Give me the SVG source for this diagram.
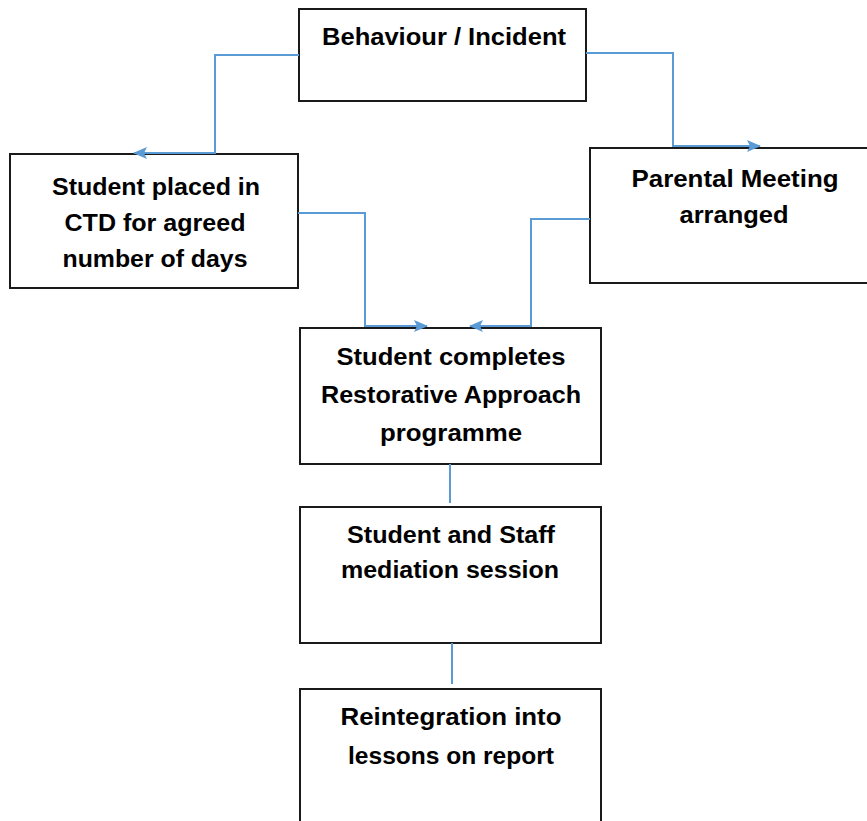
<svg xmlns="http://www.w3.org/2000/svg" width="867" height="821" viewBox="0 0 867 821">
<defs>
<style>
.box{fill:#fff;stroke:#1a1a1a;stroke-width:2}
.lbl{font-family:"Liberation Sans",Arial,sans-serif;font-weight:bold;font-size:23px;fill:#000;text-anchor:middle}
.con{fill:none;stroke:#5b9bd5;stroke-width:2}
</style>
<marker id="arr" markerWidth="14" markerHeight="12" refX="13" refY="6" orient="auto" markerUnits="userSpaceOnUse" viewBox="0 0 14 12">
<path d="M0,0 L14,6 L0,12 L3,6 z" fill="#5b9bd5"/>
</marker>
</defs>
<rect width="867" height="821" fill="#fff"/>
<g id="n-behaviour">
<rect class="box" x="299" y="9" width="287" height="92"/>
<text class="lbl" x="444" y="45" textLength="244" lengthAdjust="spacingAndGlyphs">Behaviour / Incident</text>
</g>
<g id="n-ctd">
<rect class="box" x="10" y="154" width="288" height="134"/>
<text class="lbl" x="156" y="195" textLength="208" lengthAdjust="spacingAndGlyphs">Student placed in</text>
<text class="lbl" x="155" y="231" textLength="181" lengthAdjust="spacingAndGlyphs">CTD for agreed</text>
<text class="lbl" x="155" y="267" textLength="185" lengthAdjust="spacingAndGlyphs">number of days</text>
</g>
<g id="n-parental">
<rect class="box" x="590" y="148" width="290" height="135"/>
<text class="lbl" x="735" y="187" textLength="207" lengthAdjust="spacingAndGlyphs">Parental Meeting</text>
<text class="lbl" x="734" y="223" textLength="109" lengthAdjust="spacingAndGlyphs">arranged</text>
</g>
<g id="n-restorative">
<rect class="box" x="300" y="328" width="301" height="136"/>
<text class="lbl" x="451" y="365" textLength="229" lengthAdjust="spacingAndGlyphs">Student completes</text>
<text class="lbl" x="451" y="403" textLength="260" lengthAdjust="spacingAndGlyphs">Restorative Approach</text>
<text class="lbl" x="451" y="441" textLength="142" lengthAdjust="spacingAndGlyphs">programme</text>
</g>
<g id="n-mediation">
<rect class="box" x="300" y="507" width="301" height="136"/>
<text class="lbl" x="451" y="543" textLength="208" lengthAdjust="spacingAndGlyphs">Student and Staff</text>
<text class="lbl" x="450" y="578" textLength="218" lengthAdjust="spacingAndGlyphs">mediation session</text>
</g>
<g id="n-reintegration">
<rect class="box" x="300" y="689" width="301" height="150"/>
<text class="lbl" x="451" y="725" textLength="221" lengthAdjust="spacingAndGlyphs">Reintegration into</text>
<text class="lbl" x="451" y="764" textLength="206" lengthAdjust="spacingAndGlyphs">lessons on report</text>
</g>
<g id="connectors">
<path class="con" d="M299,55 H215 V153 H134" marker-end="url(#arr)"/>
<path class="con" d="M586,53 H673 V146 H760" marker-end="url(#arr)"/>
<path class="con" d="M298,213 H365 V326 H427" marker-end="url(#arr)"/>
<path class="con" d="M590,219 H531 V326 H470" marker-end="url(#arr)"/>
<path class="con" d="M450,464 V503"/>
<path class="con" d="M452,643 V684"/>
</g>
</svg>
